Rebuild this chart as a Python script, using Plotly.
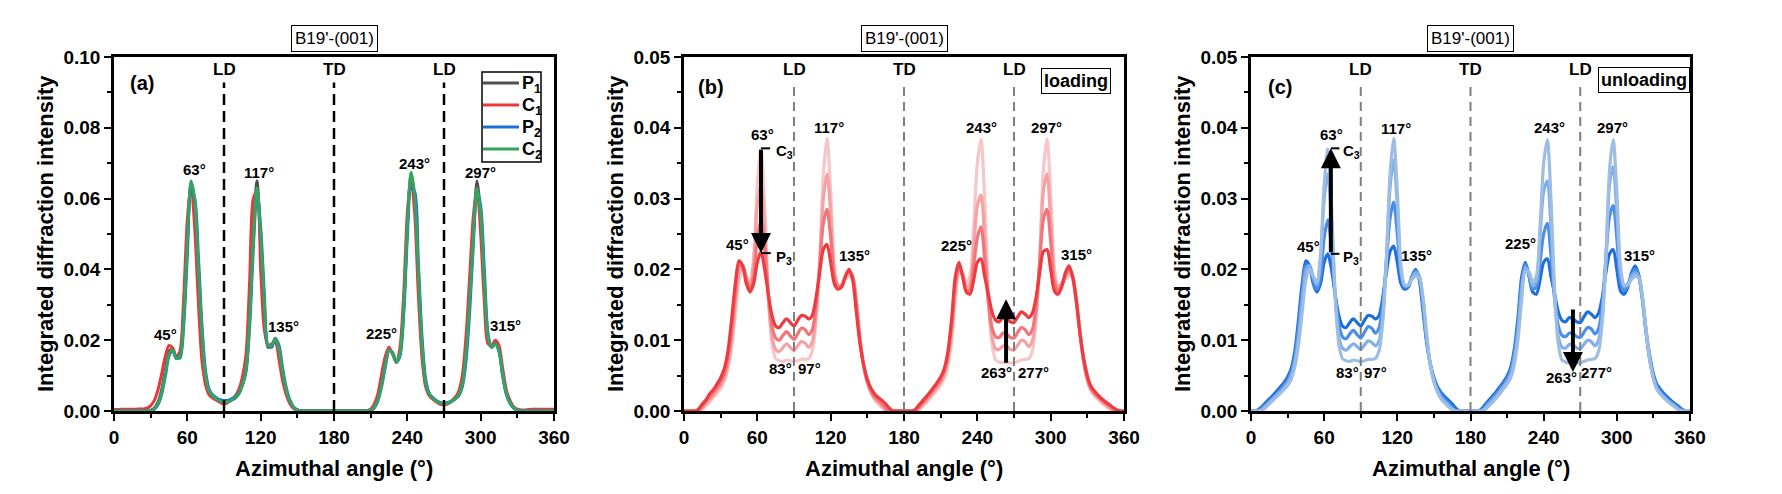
import plotly.graph_objects as go

# ---------------- data ----------------
ANGLE = list(range(0, 361, 3))

# panel (a)
A_P1 = [0, 0, 0, 0, 0, 0, 0, 0, 0, 0,
        0.0002, 0.0008, 0.0025, 0.006, 0.0115, 0.0168, 0.0175, 0.0148, 0.0158, 0.027,
        0.048, 0.0645, 0.059, 0.040, 0.021, 0.0092, 0.005, 0.0039, 0.0032, 0.0026,
        0.002, 0.0024, 0.003, 0.0036, 0.0048, 0.0075, 0.012, 0.027, 0.05, 0.065,
        0.047, 0.029, 0.018, 0.0185, 0.0205, 0.017, 0.0105, 0.0058, 0.0027, 0.001,
        0.0003, 0, 0, 0, 0, 0, 0, 0, 0, 0,
        0, 0, 0, 0, 0, 0, 0, 0, 0, 0,
        0.0002, 0.0012, 0.0035, 0.008, 0.0135, 0.0175, 0.0162, 0.0137, 0.0165, 0.029,
        0.052, 0.0665, 0.06, 0.038, 0.018, 0.0075, 0.0046, 0.0035, 0.0027, 0.002,
        0.0018, 0.002, 0.0026, 0.0034, 0.0045, 0.008, 0.017, 0.032, 0.05, 0.065,
        0.055, 0.036, 0.0205, 0.018, 0.0193, 0.0172, 0.0105, 0.0052, 0.0025, 0.001,
        0.0003, 0, 0, 0, 0, 0, 0, 0, 0, 0,
        0]
A_C1 = [0.0004, 0.0004, 0.0005, 0.0005, 0.0005, 0.0005, 0.0005, 0.0006, 0.0006, 0.0008,
        0.0015, 0.003, 0.006, 0.0105, 0.0155, 0.0185, 0.0178, 0.0152, 0.017, 0.032,
        0.054, 0.064, 0.052, 0.031, 0.014, 0.0072, 0.0045, 0.0036, 0.003, 0.0024,
        0.002, 0.0025, 0.0032, 0.0042, 0.006, 0.0095, 0.016, 0.037, 0.06, 0.062,
        0.04, 0.023, 0.0185, 0.019, 0.0195, 0.0145, 0.0085, 0.0045, 0.002, 0.0007,
        0.0002, 0, 0, 0, 0, 0, 0, 0, 0, 0,
        0, 0, 0, 0, 0, 0, 0, 0, 0, 0.0001,
        0.0005, 0.002, 0.005, 0.0105, 0.0155, 0.018, 0.016, 0.0138, 0.018, 0.033,
        0.056, 0.066, 0.056, 0.033, 0.015, 0.0068, 0.0043, 0.0033, 0.0025, 0.0019,
        0.0018, 0.0021, 0.0028, 0.0038, 0.0055, 0.01, 0.021, 0.038, 0.055, 0.063,
        0.05, 0.031, 0.019, 0.0185, 0.02, 0.0185, 0.012, 0.006, 0.003, 0.0012,
        0.0005, 0.0003, 0.0003, 0.0004, 0.0005, 0.0005, 0.0005, 0.0005, 0.0005, 0.0005,
        0.0005]
A_P2 = [0, 0, 0, 0, 0, 0, 0, 0, 0, 0,
        0.0001, 0.0005, 0.0018, 0.0048, 0.0098, 0.0155, 0.017, 0.015, 0.015, 0.024,
        0.044, 0.062, 0.06, 0.044, 0.024, 0.011, 0.006, 0.0045, 0.0037, 0.0032,
        0.003, 0.003, 0.0034, 0.004, 0.005, 0.0072, 0.011, 0.024, 0.046, 0.062,
        0.052, 0.033, 0.0185, 0.018, 0.0205, 0.0185, 0.012, 0.0065, 0.003, 0.0011,
        0.0003, 0, 0, 0, 0, 0, 0, 0, 0, 0,
        0, 0, 0, 0, 0, 0, 0, 0, 0, 0,
        0.0001, 0.0009, 0.003, 0.007, 0.0125, 0.017, 0.0165, 0.0138, 0.0155, 0.027,
        0.049, 0.063, 0.062, 0.042, 0.021, 0.009, 0.005, 0.0037, 0.0029, 0.0024,
        0.0022, 0.0024, 0.0028, 0.0034, 0.0043, 0.0068, 0.014, 0.028, 0.047, 0.062,
        0.058, 0.04, 0.022, 0.018, 0.019, 0.0168, 0.0098, 0.0047, 0.0022, 0.0008,
        0.0002, 0, 0, 0, 0, 0, 0, 0, 0, 0,
        0]
A_C2 = [0, 0, 0, 0, 0, 0, 0, 0, 0, 0,
        0.0001, 0.0006, 0.002, 0.0052, 0.0105, 0.016, 0.0172, 0.0148, 0.0155, 0.026,
        0.047, 0.065, 0.06, 0.041, 0.022, 0.0098, 0.0055, 0.0042, 0.0034, 0.0028,
        0.0024, 0.0026, 0.0031, 0.0037, 0.0048, 0.0073, 0.0115, 0.026, 0.048, 0.063,
        0.05, 0.031, 0.0185, 0.0185, 0.0205, 0.0175, 0.011, 0.006, 0.0028, 0.001,
        0.0003, 0, 0, 0, 0, 0, 0, 0, 0, 0,
        0, 0, 0, 0, 0, 0, 0, 0, 0, 0,
        0.0002, 0.001, 0.0032, 0.0075, 0.013, 0.0172, 0.0163, 0.0138, 0.0162, 0.029,
        0.052, 0.0675, 0.061, 0.04, 0.019, 0.008, 0.0048, 0.0036, 0.0028, 0.0022,
        0.002, 0.0022, 0.0027, 0.0034, 0.0045, 0.0075, 0.016, 0.031, 0.049, 0.063,
        0.056, 0.037, 0.021, 0.018, 0.019, 0.017, 0.0102, 0.005, 0.0024, 0.0009,
        0.0002, 0, 0, 0, 0, 0, 0, 0, 0, 0,
        0]

# panel (b) loading: P3 (darkest) ... C3 (lightest)
B_L0 = [0, 0, 0, 0, 0.0003, 0.001, 0.0016, 0.0024, 0.003, 0.0038,
        0.0047, 0.006, 0.0085, 0.013, 0.018, 0.0212, 0.0205, 0.018, 0.0168, 0.018,
        0.021, 0.0225, 0.02, 0.0165, 0.0135, 0.012, 0.0118, 0.0125, 0.013, 0.0125,
        0.012, 0.0128, 0.0135, 0.0134, 0.013, 0.0135, 0.016, 0.0195, 0.0228, 0.0235,
        0.021, 0.018, 0.0172, 0.0175, 0.019, 0.02, 0.0185, 0.014, 0.0095, 0.0065,
        0.0045, 0.0032, 0.0024, 0.0019, 0.0015, 0.001, 0.0004, 0, 0, 0,
        0, 0, 0, 0.0002, 0.0008, 0.0014, 0.002, 0.0026, 0.0033, 0.004,
        0.0048, 0.006, 0.0085, 0.013, 0.019, 0.021, 0.019, 0.0168, 0.0165, 0.0185,
        0.021, 0.0215, 0.019, 0.0165, 0.014, 0.0128, 0.0126, 0.0132, 0.013, 0.0126,
        0.0125, 0.0133, 0.014, 0.0137, 0.0132, 0.0138, 0.016, 0.0195, 0.0225, 0.0228,
        0.02, 0.017, 0.0165, 0.0175, 0.0195, 0.0205, 0.019, 0.0155, 0.011, 0.0075,
        0.005, 0.0035, 0.0028, 0.0022, 0.0017, 0.0013, 0.0009, 0.0005, 0.0002, 0,
        0]
B_L1 = [0, 0, 0, 0, 0.0001, 0.0007, 0.0013, 0.002, 0.0026, 0.0033,
        0.0041, 0.0053, 0.0075, 0.0115, 0.0165, 0.0205, 0.0205, 0.0185, 0.0172, 0.019,
        0.0245, 0.027, 0.023, 0.0165, 0.012, 0.0103, 0.01, 0.0107, 0.0112, 0.0106,
        0.0101, 0.0109, 0.0117, 0.0115, 0.0108, 0.0115, 0.0148, 0.0205, 0.0265, 0.0285,
        0.0245, 0.019, 0.0175, 0.0177, 0.019, 0.0198, 0.019, 0.0148, 0.0098, 0.0064,
        0.0042, 0.0029, 0.002, 0.0015, 0.001, 0.0004, 0, 0, 0, 0,
        0, 0, 0, 0, 0.0005, 0.0011, 0.0017, 0.0023, 0.003, 0.0037,
        0.0045, 0.0057, 0.008, 0.0122, 0.018, 0.0205, 0.019, 0.017, 0.0172, 0.0205,
        0.0245, 0.026, 0.0215, 0.0155, 0.0118, 0.0105, 0.0104, 0.011, 0.0109, 0.0104,
        0.0103, 0.0111, 0.0118, 0.0115, 0.0108, 0.0115, 0.0148, 0.021, 0.027, 0.0285,
        0.024, 0.018, 0.017, 0.0177, 0.0192, 0.02, 0.0188, 0.0155, 0.0108, 0.007,
        0.0046, 0.0032, 0.0025, 0.002, 0.0015, 0.0011, 0.0007, 0.0003, 0, 0,
        0]
B_L2 = [0, 0, 0, 0, 0, 0.0004, 0.001, 0.0016, 0.0022, 0.0029,
        0.0036, 0.0047, 0.0066, 0.01, 0.015, 0.0195, 0.0205, 0.019, 0.0178, 0.021,
        0.029, 0.032, 0.026, 0.016, 0.0105, 0.0087, 0.0084, 0.009, 0.0095, 0.009,
        0.0085, 0.0092, 0.0098, 0.0096, 0.009, 0.0098, 0.0135, 0.021, 0.03, 0.0335,
        0.028, 0.0195, 0.0177, 0.0178, 0.0188, 0.0195, 0.019, 0.0155, 0.0102, 0.0063,
        0.004, 0.0026, 0.0018, 0.0012, 0.0007, 0.0002, 0, 0, 0, 0,
        0, 0, 0, 0, 0.0003, 0.0009, 0.0014, 0.002, 0.0026, 0.0033,
        0.004, 0.0051, 0.0072, 0.011, 0.017, 0.0202, 0.0192, 0.0175, 0.018, 0.023,
        0.029, 0.0305, 0.0245, 0.0155, 0.0105, 0.0088, 0.0087, 0.0092, 0.0092, 0.0087,
        0.0086, 0.0093, 0.01, 0.0098, 0.0091, 0.0099, 0.0135, 0.021, 0.031, 0.0335,
        0.027, 0.019, 0.0175, 0.018, 0.019, 0.0195, 0.019, 0.0158, 0.011, 0.007,
        0.0044, 0.003, 0.0023, 0.0018, 0.0013, 0.0009, 0.0005, 0.0001, 0, 0,
        0]
B_L3 = [0, 0, 0, 0, 0, 0.0002, 0.0008, 0.0013, 0.0019, 0.0025,
        0.0032, 0.0042, 0.006, 0.009, 0.0135, 0.0183, 0.0198, 0.019, 0.0182, 0.022,
        0.032, 0.037, 0.029, 0.0165, 0.0095, 0.0074, 0.0071, 0.007, 0.0072, 0.0071,
        0.007, 0.0071, 0.0073, 0.0073, 0.0074, 0.0085, 0.0125, 0.021, 0.0335, 0.0385,
        0.031, 0.0205, 0.0178, 0.0178, 0.0186, 0.019, 0.0188, 0.016, 0.0108, 0.0065,
        0.004, 0.0025, 0.0016, 0.001, 0.0005, 0.0001, 0, 0, 0, 0,
        0, 0, 0, 0, 0.0001, 0.0006, 0.0011, 0.0017, 0.0023, 0.003,
        0.0037, 0.0046, 0.0065, 0.01, 0.0155, 0.0195, 0.0195, 0.0182, 0.019, 0.026,
        0.035, 0.0384, 0.03, 0.017, 0.0095, 0.0072, 0.0069, 0.0068, 0.0069, 0.0068,
        0.0068, 0.007, 0.0072, 0.0073, 0.0074, 0.0084, 0.0125, 0.021, 0.034, 0.0384,
        0.031, 0.0205, 0.0178, 0.0178, 0.0186, 0.019, 0.0188, 0.016, 0.0112, 0.007,
        0.0043, 0.0028, 0.0021, 0.0016, 0.0011, 0.0007, 0.0003, 0, 0, 0,
        0]

# panel (c) unloading: P3 (darkest) ... C3 (lightest)
C_L0 = [0, 0, 0.0002, 0.0006, 0.0012, 0.0017, 0.0022, 0.0028, 0.0034, 0.004,
        0.0048, 0.006, 0.0085, 0.013, 0.018, 0.0212, 0.0205, 0.018, 0.0168, 0.018,
        0.021, 0.0222, 0.02, 0.0165, 0.0135, 0.012, 0.0118, 0.0125, 0.013, 0.0125,
        0.012, 0.0128, 0.0135, 0.0134, 0.013, 0.0135, 0.016, 0.0195, 0.0225, 0.0233,
        0.021, 0.018, 0.0172, 0.0175, 0.019, 0.02, 0.0185, 0.0142, 0.0097, 0.0067,
        0.0047, 0.0034, 0.0026, 0.002, 0.0015, 0.001, 0.0004, 0, 0, 0,
        0, 0, 0, 0.0003, 0.0009, 0.0015, 0.0021, 0.0027, 0.0034, 0.0041,
        0.0049, 0.0062, 0.0088, 0.0133, 0.019, 0.021, 0.019, 0.0168, 0.0165, 0.0185,
        0.021, 0.0215, 0.019, 0.0165, 0.014, 0.0128, 0.0126, 0.0132, 0.013, 0.0126,
        0.0125, 0.0133, 0.014, 0.0137, 0.0132, 0.0138, 0.016, 0.0195, 0.0222, 0.0228,
        0.02, 0.017, 0.0165, 0.0175, 0.0195, 0.0205, 0.0192, 0.0158, 0.0113, 0.0078,
        0.0052, 0.0037, 0.003, 0.0024, 0.0019, 0.0014, 0.001, 0.0006, 0.0002, 0,
        0]
C_L1 = [0, 0, 0.0001, 0.0004, 0.0009, 0.0014, 0.0019, 0.0024, 0.003, 0.0036,
        0.0043, 0.0055, 0.0077, 0.0118, 0.0168, 0.0205, 0.0205, 0.0185, 0.0172, 0.019,
        0.0245, 0.027, 0.023, 0.0165, 0.0122, 0.0105, 0.0102, 0.0109, 0.0114, 0.0108,
        0.0103, 0.0111, 0.0119, 0.0117, 0.011, 0.0117, 0.015, 0.021, 0.0272, 0.0295,
        0.025, 0.0192, 0.0175, 0.0177, 0.019, 0.0198, 0.019, 0.015, 0.01, 0.0066,
        0.0044, 0.0031, 0.0022, 0.0016, 0.0011, 0.0005, 0, 0, 0, 0,
        0, 0, 0, 0.0001, 0.0006, 0.0012, 0.0018, 0.0024, 0.0031, 0.0038,
        0.0046, 0.0058, 0.0082, 0.0124, 0.0182, 0.0207, 0.0192, 0.0172, 0.0175, 0.021,
        0.025, 0.0265, 0.022, 0.0158, 0.012, 0.0107, 0.0105, 0.011, 0.011, 0.0105,
        0.0104, 0.0111, 0.0118, 0.0116, 0.0109, 0.0116, 0.015, 0.0215, 0.0275, 0.029,
        0.0245, 0.0182, 0.017, 0.0177, 0.0192, 0.02, 0.019, 0.0157, 0.011, 0.0072,
        0.0048, 0.0034, 0.0027, 0.0021, 0.0016, 0.0012, 0.0008, 0.0004, 0.0001, 0,
        0]
C_L2 = [0, 0, 0, 0.0002, 0.0007, 0.0012, 0.0017, 0.0022, 0.0027, 0.0033,
        0.004, 0.005, 0.007, 0.0105, 0.0155, 0.0198, 0.0205, 0.019, 0.0178, 0.0215,
        0.03, 0.0335, 0.027, 0.0163, 0.0105, 0.0089, 0.0086, 0.0091, 0.0095, 0.0091,
        0.0087, 0.0093, 0.0099, 0.0097, 0.0092, 0.0099, 0.0135, 0.0215, 0.0315, 0.0355,
        0.029, 0.0198, 0.0177, 0.0178, 0.0188, 0.0195, 0.019, 0.0157, 0.0104, 0.0065,
        0.0042, 0.0028, 0.0019, 0.0013, 0.0008, 0.0003, 0, 0, 0, 0,
        0, 0, 0, 0, 0.0004, 0.001, 0.0015, 0.0021, 0.0027, 0.0034,
        0.0041, 0.0052, 0.0074, 0.0113, 0.0172, 0.0203, 0.0193, 0.0177, 0.0183, 0.0245,
        0.031, 0.0325, 0.026, 0.016, 0.0105, 0.009, 0.0089, 0.0094, 0.0094, 0.0089,
        0.0088, 0.0094, 0.01, 0.0098, 0.0092, 0.01, 0.0135, 0.0215, 0.032, 0.0345,
        0.028, 0.0195, 0.0176, 0.018, 0.019, 0.0195, 0.019, 0.016, 0.0112, 0.0072,
        0.0046, 0.0031, 0.0024, 0.0019, 0.0014, 0.001, 0.0006, 0.0002, 0, 0,
        0]
C_L3 = [0, 0, 0, 0.0001, 0.0005, 0.001, 0.0015, 0.002, 0.0025, 0.003,
        0.0036, 0.0045, 0.0063, 0.0094, 0.014, 0.0185, 0.02, 0.019, 0.0182, 0.022,
        0.032, 0.037, 0.029, 0.0165, 0.0095, 0.0074, 0.0071, 0.007, 0.0072, 0.0071,
        0.007, 0.0071, 0.0073, 0.0073, 0.0074, 0.0085, 0.0125, 0.021, 0.0335, 0.0385,
        0.031, 0.0205, 0.0178, 0.0178, 0.0186, 0.019, 0.0188, 0.0162, 0.011, 0.0067,
        0.0041, 0.0026, 0.0017, 0.0011, 0.0006, 0.0002, 0, 0, 0, 0,
        0, 0, 0, 0, 0.0002, 0.0007, 0.0012, 0.0018, 0.0024, 0.0031,
        0.0038, 0.0047, 0.0066, 0.0102, 0.0158, 0.0197, 0.0196, 0.0182, 0.019, 0.026,
        0.035, 0.0383, 0.03, 0.017, 0.0095, 0.0072, 0.0069, 0.0068, 0.0069, 0.0068,
        0.0068, 0.007, 0.0072, 0.0073, 0.0074, 0.0084, 0.0125, 0.021, 0.034, 0.0383,
        0.031, 0.0205, 0.0178, 0.0178, 0.0186, 0.019, 0.0188, 0.0162, 0.0115, 0.0073,
        0.0046, 0.003, 0.0023, 0.0018, 0.0013, 0.0009, 0.0005, 0.0001, 0, 0,
        0]

A_NAMES = ["P<sub>1</sub>", "C<sub>1</sub>", "P<sub>2</sub>", "C<sub>2</sub>"]
A_COLORS = ["#4f4f4f", "#e8383d", "#1f6fdb", "#33a561"]
B_COLORS = ["#ee3b40", "#f27579", "#f5a2a4", "#f8c6c7"]
C_COLORS = ["#1f6fdb", "#4a8ee6", "#80afec", "#9dbde3"]
PEAKS = ["45°", "63°", "117°", "135°", "225°", "243°", "297°", "315°"]
VALLEYS = ["83°", "97°", "263°", "277°"]
DIRS = ["LD", "TD", "LD"]
DIR_ANGLES = [90, 180, 270]

# ---------------- layout geometry ----------------
# the page body adds an 8 px offset; the figure is sized so it fills the window exactly
OFF = 8
WIN_W, WIN_H = 1782, 494
W, H = WIN_W - OFF, WIN_H - OFF
PLOT_TOP, PLOT_BOT = 57, 411          # window px
MT = PLOT_TOP - OFF
MB = H - (PLOT_BOT - OFF)
PANELS = [(114, 554), (684, 1124), (1251, 1690)]   # window px
FONT = "Liberation Sans, Arial, sans-serif"


def px_x(p):
    return (p - OFF) / W


def px_y(p):
    return (PLOT_BOT - p) / (PLOT_BOT - PLOT_TOP)


fig = go.Figure()

for name, col, ys in zip(A_NAMES, A_COLORS, [A_P1, A_C1, A_P2, A_C2]):
    fig.add_trace(go.Scatter(x=ANGLE, y=ys, mode="lines", name=name,
                             line=dict(color=col, width=3, shape="spline", smoothing=0.8),
                             xaxis="x", yaxis="y", showlegend=False))
for col, ys in zip(B_COLORS[::-1], [B_L3, B_L2, B_L1, B_L0]):
    fig.add_trace(go.Scatter(x=ANGLE, y=ys, mode="lines",
                             line=dict(color=col, width=3.2, shape="spline", smoothing=0.8),
                             xaxis="x2", yaxis="y2", showlegend=False))
for col, ys in zip(C_COLORS, [C_L0, C_L1, C_L2, C_L3]):
    fig.add_trace(go.Scatter(x=ANGLE, y=ys, mode="lines",
                             line=dict(color=col, width=3.2, shape="spline", smoothing=0.8),
                             xaxis="x3", yaxis="y3", showlegend=False))

tickfont = dict(family=FONT, size=19, color="black", weight="bold")


def xcfg(dom, anchor):
    return dict(domain=dom, anchor=anchor, range=[0, 360], tick0=0, dtick=60,
                ticks="outside", ticklen=7, tickwidth=2, tickcolor="black",
                showline=True, linewidth=2.5, linecolor="black", mirror=True,
                showgrid=False, zeroline=False, tickfont=tickfont,
                minor=dict(dtick=30, ticks="outside", ticklen=4, tickwidth=2,
                           tickcolor="black", showgrid=False))


def ycfg(anchor, top, major, minor):
    return dict(domain=[0, 1], anchor=anchor, range=[0, top], tick0=0, dtick=major,
                tickformat=".2f", ticks="outside", ticklen=7, tickwidth=2,
                tickcolor="black", showline=True, linewidth=2.5, linecolor="black",
                mirror=True, showgrid=False, zeroline=False, tickfont=tickfont,
                minor=dict(dtick=minor, ticks="outside", ticklen=4, tickwidth=2,
                           tickcolor="black", showgrid=False))


doms = [[px_x(a), px_x(b)] for a, b in PANELS]

annotations = []
shapes = []


def txt(x, y, s, xref, yref, size=15, weight="bold", **kw):
    d = dict(x=x, y=y, xref=xref, yref=yref, text=s, showarrow=False,
             xanchor="center", yanchor="middle",
             font=dict(family=FONT, size=size, color="black", weight=weight))
    d.update(kw)
    annotations.append(d)


panel_info = [
    dict(xr="x", yr="y", tag="(a)", tagpos=(22.5, 0.0927),
         dir_y=0.0966, dash_top=0.0928, dash_col="black", dash_w=2.5, dash="11px,6px",
         peaks=[(42, 0.0216), (66, 0.0683), (119, 0.0675), (138.5, 0.0238),
                (219, 0.0219), (246, 0.070), (299.5, 0.0675), (320, 0.0242)]),
    dict(xr="x2", yr="y2", tag="(b)", tagpos=(22, 0.0458),
         dir_y=0.0482, dash_top=0.0458, dash_col="#7f7f7f", dash_w=2, dash="9px,6px",
         peaks=[(44, 0.0235), (64, 0.039), (118.3, 0.040), (139.5, 0.022),
                (223, 0.0234), (243.3, 0.040), (296.4, 0.040), (321, 0.0221)],
         valleys=[(78.8, 0.006), (102.5, 0.006), (255.4, 0.0054), (286, 0.0054)]),
    dict(xr="x3", yr="y3", tag="(c)", tagpos=(23.7, 0.0457),
         dir_y=0.0482, dash_top=0.0458, dash_col="#7f7f7f", dash_w=2, dash="9px,6px",
         peaks=[(47.5, 0.0232), (66, 0.039), (118.5, 0.0399), (136, 0.0219),
                (221, 0.0236), (244.5, 0.040), (296.7, 0.040), (318.9, 0.022)],
         valleys=[(79, 0.0055), (101.9, 0.0055), (254.7, 0.0047), (283, 0.0054)]),
]

for i, p in enumerate(panel_info):
    xr, yr = p["xr"], p["yr"]
    for ang, lab in zip(DIR_ANGLES, DIRS):
        shapes.append(dict(type="line", xref=xr, yref=yr, x0=ang, x1=ang, y0=0,
                           y1=p["dash_top"],
                           line=dict(color=p["dash_col"], width=p["dash_w"], dash=p["dash"])))
        txt(ang, p["dir_y"], lab, xr, yr, size=17)
    txt(p["tagpos"][0], p["tagpos"][1], p["tag"], xr, yr, size=20)
    for (x, y), lab in zip(p["peaks"], PEAKS):
        txt(x, y, lab, xr, yr, size=15)
    for (x, y), lab in zip(p.get("valleys", []), VALLEYS):
        txt(x, y, lab, xr, yr, size=15)
    cx = (PANELS[i][0] + PANELS[i][1]) / 2
    txt(px_x(cx), px_y(39), "B19'-(001)", "paper", "paper", size=17, weight="normal",
        bordercolor="black", borderwidth=1, borderpad=3, bgcolor="white")
    txt(px_x(cx), px_y(468), "Azimuthal angle (°)", "paper", "paper", size=22)
    txt(px_x(PANELS[i][0] - 69), 0.5, "Integrated diffraction intensity", "paper", "paper",
        size=22, textangle=-90)

txt(349, 0.0466, "loading", "x2", "y2", size=18, xanchor="right",
    bordercolor="black", borderwidth=1, borderpad=2, bgcolor="white")
txt(359.6, 0.0468, "unloading", "x3", "y3", size=18, xanchor="right",
    bordercolor="black", borderwidth=1, borderpad=2, bgcolor="white")

# legend of panel (a), drawn as a boxed key
LEG_BOX = (482, 541, 72, 162)      # window px: left, right, top, bottom
LEG_ROWS = [83, 105, 127, 149]
shapes.append(dict(type="rect", xref="paper", yref="paper",
                   x0=px_x(LEG_BOX[0]), x1=px_x(LEG_BOX[1]),
                   y0=px_y(LEG_BOX[3]), y1=px_y(LEG_BOX[2]),
                   line=dict(color="black", width=1.5), fillcolor="white", layer="above"))
for name, col, row in zip(A_NAMES, A_COLORS, LEG_ROWS):
    shapes.append(dict(type="line", xref="paper", yref="paper",
                       x0=px_x(LEG_BOX[0] + 1), x1=px_x(519), y0=px_y(row), y1=px_y(row),
                       line=dict(color=col, width=3), layer="above"))
    txt(px_x(520), px_y(row + 1), name, "paper", "paper", size=18, xanchor="left")


def arrow(xr, yr, x, y0, y1):
    annotations.append(dict(x=x, y=y1, ax=x, ay=y0, xref=xr, yref=yr, axref=xr, ayref=yr,
                            text="", showarrow=True, arrowhead=2, arrowsize=1.0,
                            arrowwidth=4, arrowcolor="black", standoff=0))


def bracket(xr, yr, x, y, length):
    shapes.append(dict(type="line", xref=xr, yref=yr, x0=x, x1=x + length, y0=y, y1=y,
                       line=dict(color="black", width=2)))


arrow("x2", "y2", 63, 0.0371, 0.0223)
bracket("x2", "y2", 63, 0.0371, 7.5)
bracket("x2", "y2", 63, 0.0223, 8)
txt(73.5, 0.0366, "C<sub>3</sub>", "x2", "y2", size=15, xanchor="left")
txt(73.5, 0.0217, "P<sub>3</sub>", "x2", "y2", size=15, xanchor="left")
arrow("x2", "y2", 263.5, 0.0066, 0.0158)

arrow("x3", "y3", 65.5, 0.0222, 0.0371)
bracket("x3", "y3", 65.5, 0.0371, 7)
bracket("x3", "y3", 65.5, 0.0222, 7)
txt(73.5, 0.0366, "C<sub>3</sub>", "x3", "y3", size=15, xanchor="left")
txt(73.5, 0.0217, "P<sub>3</sub>", "x3", "y3", size=15, xanchor="left")
arrow("x3", "y3", 264, 0.01455, 0.0055)

fig.update_layout(
    width=W, height=H,
    margin=dict(l=0, r=0, t=MT, b=MB, autoexpand=False),
    paper_bgcolor="white", plot_bgcolor="white",
    xaxis=xcfg(doms[0], "y"), yaxis=ycfg("x", 0.10, 0.02, 0.01),
    xaxis2=xcfg(doms[1], "y2"), yaxis2=ycfg("x2", 0.05, 0.01, 0.005),
    xaxis3=xcfg(doms[2], "y3"), yaxis3=ycfg("x3", 0.05, 0.01, 0.005),
    showlegend=False,
    annotations=annotations, shapes=shapes,
    font=dict(family=FONT, color="black"),
)

fig.write_html("out.html")
